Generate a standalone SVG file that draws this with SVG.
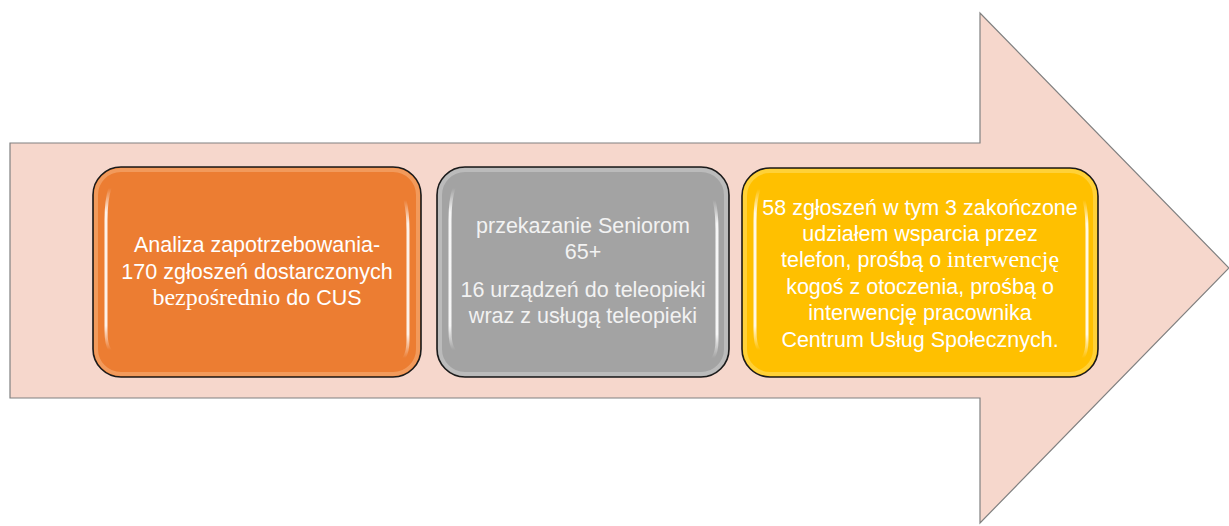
<svg xmlns="http://www.w3.org/2000/svg" width="1229" height="526" viewBox="0 0 1229 526">
<defs>
<style>
.box{stroke:#1a1a1a;stroke-width:1.6}
.rim{fill:none;stroke-width:4;stroke-opacity:0.35}
.hl{fill:none;stroke:url(#hlg);stroke-width:3;stroke-linecap:round}
.t{font-family:"Liberation Sans",Arial,sans-serif;font-size:21.5px;fill:#ffffff;text-anchor:middle}
.t2{font-family:"Liberation Sans",Arial,sans-serif;font-size:21.5px;fill:#f2f2f2;text-anchor:middle}
.s{font-family:"Liberation Serif","Times New Roman",serif;font-size:24px}
</style>
<linearGradient id="hlg" x1="0" y1="0" x2="0" y2="1">
<stop offset="0" stop-color="#ffffff" stop-opacity="0"/>
<stop offset="0.15" stop-color="#ffffff" stop-opacity="0.9"/>
<stop offset="0.85" stop-color="#ffffff" stop-opacity="0.9"/>
<stop offset="1" stop-color="#ffffff" stop-opacity="0"/>
</linearGradient>
</defs>
<rect width="1229" height="526" fill="#ffffff"/>
<g id="arrow">
<path d="M10,143 L980,143 L980,13 L1229,268 L980,523 L980,398 L10,398 Z" fill="#f6d7cc" stroke="#808080" stroke-width="1.2"/>
</g>
<g id="connectors"/>
<g id="node1">
<rect class="box" x="93" y="167" width="328" height="210" rx="28" fill="#ec7d32"/>
<rect class="rim" x="96" y="170" width="322" height="204" rx="25" stroke="#ffd2a8"/>
<path class="hl" d="M110,188 Q106,200 106,220 L106,330 Q106,345 110,350"/>
<path class="hl" d="M405,200 Q408,212 408,230 L408,340 Q408,352 404,358"/>
<text class="t" x="257" y="252">Analiza zapotrzebowania-</text>
<text class="t" x="257" y="279">170 zgłoszeń dostarczonych</text>
<text class="t" x="257" y="305"><tspan class="s">bezpośrednio</tspan> do CUS</text>
</g>
<g id="node2">
<rect class="box" x="437" y="167" width="292" height="210" rx="28" fill="#a3a3a3"/>
<rect class="rim" x="440" y="170" width="286" height="204" rx="25" stroke="#e8e8e8"/>
<path class="hl" d="M454,188 Q450,200 450,220 L450,330 Q450,345 454,350"/>
<path class="hl" d="M714,200 Q717,212 717,230 L717,340 Q717,352 713,358"/>
<text class="t2" x="583" y="233">przekazanie Seniorom</text>
<text class="t2" x="583" y="259">65+</text>
<text class="t2" x="583" y="297">16 urządzeń do teleopieki</text>
<text class="t2" x="583" y="323">wraz z usługą teleopieki</text>
</g>
<g id="node3">
<rect class="box" x="742" y="168" width="356" height="209" rx="28" fill="#ffc000"/>
<rect class="rim" x="745" y="171" width="350" height="203" rx="25" stroke="#fff0a0"/>
<path class="hl" d="M759,189 Q755,201 755,221 L755,330 Q755,345 759,350"/>
<path class="hl" d="M1084,200 Q1087,212 1087,230 L1087,340 Q1087,352 1083,358"/>
<text class="t" x="920" y="215">58 zgłoszeń w tym 3 zakończone</text>
<text class="t" x="920" y="241">udziałem wsparcia przez</text>
<text class="t" x="920" y="267">telefon, prośbą o <tspan class="s">interwencję</tspan></text>
<text class="t" x="920" y="294">kogoś z otoczenia, prośbą o</text>
<text class="t" x="920" y="320">interwencję pracownika</text>
<text class="t" x="920" y="347">Centrum Usług Społecznych.</text>
</g>
</svg>
